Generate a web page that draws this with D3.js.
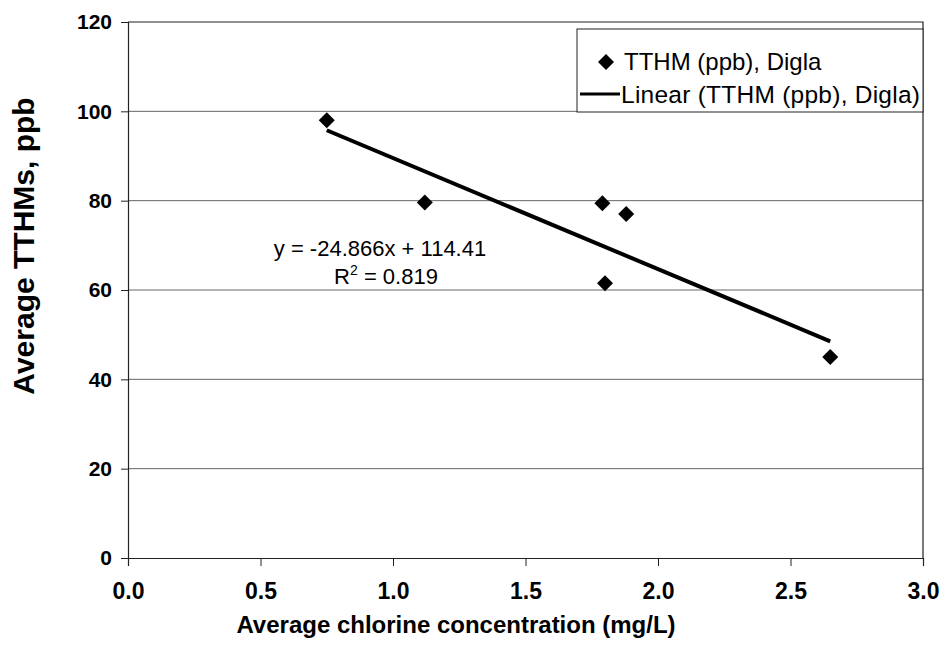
<!DOCTYPE html>
<html>
<head>
<meta charset="utf-8">
<script src="https://cdn.jsdelivr.net/npm/d3@7"></script>
<style>
  body { margin: 0; background: #fff; }
  svg { display: block; font-family: "Liberation Sans", Arial, sans-serif; }
</style>
</head>
<body>
<div id="chart"></div>
<script>
// data
const chlorine = [0.75, 1.12, 1.79, 1.80, 1.88, 2.65];
const tthm = [98, 79.6, 79.4, 61.5, 77, 45];
const xTicks = [0, 0.5, 1.0, 1.5, 2.0, 2.5, 3.0];
const yTicks = [0, 20, 40, 60, 80, 100, 120];
const slope = -24.866, intercept = 114.41, r2 = 0.819;

const width = 941, height = 655;
const m = { left: 128, right: 18, top: 22, bottom: 97 };

const svg = d3.select('#chart').append('svg')
    .attr('width', width)
    .attr('height', height);

const x = d3.scaleLinear().domain([0, 3]).range([m.left, width - m.right]);
const y = d3.scaleLinear().domain([0, 120]).range([height - m.bottom, m.top]);

// gridlines
svg.append('g')
  .selectAll('line')
  .data(yTicks.filter(d => d > 0 && d < 120))
  .enter().append('line')
    .attr('x1', x(0)).attr('x2', x(3))
    .attr('y1', d => y(d)).attr('y2', d => y(d))
    .attr('stroke', '#666')
    .attr('stroke-width', 1);

// plot border (top + right)
svg.append('path')
    .attr('d', `M${x(0)},${y(120)}H${x(3)}V${y(0)}`)
    .attr('fill', 'none')
    .attr('stroke', '#222')
    .attr('stroke-width', 1.2);

// axes
const xAxis = svg.append('g')
    .attr('transform', 'translate(0,' + y(0) + ')')
    .call(d3.axisBottom(x).tickValues(xTicks).tickFormat(d3.format('.1f')).tickSize(8).tickPadding(17));

const yAxis = svg.append('g')
    .attr('transform', 'translate(' + x(0) + ',0)')
    .call(d3.axisLeft(y).tickValues(yTicks).tickSize(7).tickPadding(9));

[xAxis, yAxis].forEach(function(g) {
  g.select('.domain').attr('stroke', '#222').attr('stroke-width', 1.2);
  g.selectAll('.tick line').attr('stroke', '#222');
  g.selectAll('.tick text')
    .attr('fill', '#000')
    .style('font-family', '"Liberation Sans", Arial, sans-serif')
    .style('font-weight', 'bold');
});
xAxis.selectAll('.tick text').style('font-size', '23px');
yAxis.selectAll('.tick text').style('font-size', '21px');

// trendline from the fitted equation
const xMin = d3.min(chlorine), xMax = d3.max(chlorine);
const line = d3.line().x(d => x(d)).y(d => y(slope * d + intercept));
svg.append('path')
    .datum([xMin, xMax])
    .attr('d', line)
    .attr('fill', 'none')
    .attr('stroke', '#000')
    .attr('stroke-width', 4);

// data points (diamonds)
const diamond = d3.symbol().type(d3.symbolSquare).size(128);
svg.append('g')
  .selectAll('path')
  .data(chlorine.map((c, i) => ({ c: c, v: tthm[i] })))
  .enter().append('path')
    .attr('d', diamond)
    .attr('transform', d => 'translate(' + x(d.c) + ',' + y(d.v) + ') rotate(45)')
    .attr('fill', '#000');

// equation label
const eq = svg.append('text')
    .attr('text-anchor', 'middle')
    .style('font-size', '22px');
eq.append('tspan').attr('x', 380).attr('y', 256).text('y = -24.866x + 114.41');
const r2Line = eq.append('tspan').attr('x', 386).attr('y', 284);
r2Line.append('tspan').text('R');
r2Line.append('tspan').attr('dy', -9).style('font-size', '14px').text('2');
r2Line.append('tspan').attr('dy', 9).text(' = ' + r2);

// legend
const legend = svg.append('g');
legend.append('rect')
    .attr('x', 577).attr('y', 29)
    .attr('width', x(3) - 577).attr('height', 83)
    .attr('fill', '#fff')
    .attr('stroke', '#222')
    .attr('stroke-width', 1);
legend.append('path')
    .attr('d', diamond)
    .attr('transform', 'translate(606,62) rotate(45)')
    .attr('fill', '#000');
legend.append('text')
    .attr('x', 624).attr('y', 70)
    .style('font-size', '24px')
    .text('TTHM (ppb), Digla');
legend.append('line')
    .attr('x1', 580).attr('x2', 620)
    .attr('y1', 94).attr('y2', 94)
    .attr('stroke', '#000')
    .attr('stroke-width', 3);
legend.append('text')
    .attr('x', 621).attr('y', 103)
    .attr('textLength', 299)
    .style('font-size', '24.5px')
    .text('Linear (TTHM (ppb), Digla)');

// axis titles
svg.append('text')
    .attr('x', 456).attr('y', 633)
    .attr('text-anchor', 'middle')
    .style('font-size', '24px')
    .style('font-weight', 'bold')
    .text('Average chlorine concentration (mg/L)');

svg.append('text')
    .attr('transform', 'translate(34,246) rotate(-90)')
    .attr('text-anchor', 'middle')
    .style('font-size', '30px')
    .style('font-weight', 'bold')
    .text('Average TTHMs, ppb');
</script>
</body>
</html>
